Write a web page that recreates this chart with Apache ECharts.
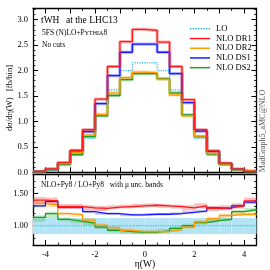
<!DOCTYPE html>
<html><head><meta charset="utf-8">
<script src="https://cdn.jsdelivr.net/npm/echarts@6/dist/echarts.min.js"></script>
<style>html,body{margin:0;padding:0;background:#fff}#c{width:270px;height:270px}</style>
</head><body><div id="c"></div>
<script>
// ---- data ----
const binEdges = [-4.5,-4,-3.5,-3,-2.5,-2,-1.5,-1,-0.5,0,0.5,1,1.5,2,2.5,3,3.5,4,4.5];
const seriesNames = ['LO','NLO DR1','NLO DR2','NLO DS1','NLO DS2'];
const loVals  = [0.012,0.045,0.14,0.33,0.67,1.13,1.62,2.00,2.15,2.15,2.00,1.62,1.13,0.67,0.33,0.14,0.045,0.012];
const dr1Vals = [0.018,0.065,0.19,0.43,0.84,1.44,2.08,2.57,2.81,2.79,2.56,2.08,1.43,0.84,0.42,0.18,0.062,0.018];
const dr2Vals = [0.016,0.060,0.17,0.39,0.73,1.14,1.56,1.86,1.97,1.96,1.83,1.52,1.11,0.71,0.37,0.16,0.053,0.015];
const ds1Vals = [0.016,0.062,0.18,0.42,0.80,1.35,1.90,2.36,2.52,2.52,2.36,1.94,1.37,0.81,0.41,0.17,0.059,0.017];
const ds2Vals = [0.014,0.054,0.154,0.35,0.70,1.11,1.51,1.82,1.94,1.94,1.84,1.56,1.13,0.70,0.36,0.154,0.055,0.015];

const loRatio  = [1,1,1,1,1,1,1,1,1,1,1,1,1,1,1,1,1,1];
const loHi     = [1.12,1.12,1.12,1.12,1.12,1.12,1.12,1.12,1.12,1.12,1.12,1.12,1.12,1.12,1.12,1.12,1.12,1.12];
const loLo     = [0.87,0.87,0.87,0.87,0.87,0.87,0.87,0.87,0.87,0.87,0.87,0.87,0.87,0.87,0.87,0.87,0.87,0.87];
const dr1Ratio = [1.40,1.39,1.30,1.30,1.28,1.27,1.29,1.30,1.31,1.32,1.31,1.30,1.28,1.31,1.27,1.28,1.31,1.39];
const dr1Hi    = [1.45,1.44,1.34,1.34,1.32,1.31,1.32,1.33,1.34,1.35,1.34,1.33,1.32,1.35,1.31,1.32,1.35,1.44];
const dr1Lo    = [1.35,1.34,1.26,1.26,1.24,1.23,1.26,1.27,1.28,1.29,1.28,1.27,1.24,1.27,1.23,1.24,1.27,1.34];
const ds1Ratio = [1.31,1.38,1.29,1.29,1.22,1.19,1.19,1.17,1.17,1.18,1.18,1.19,1.21,1.23,1.28,1.27,1.31,1.37];
const ds1Hi    = [1.33,1.40,1.31,1.31,1.24,1.21,1.21,1.19,1.19,1.20,1.20,1.21,1.23,1.25,1.30,1.29,1.33,1.39];
const ds1Lo    = [1.29,1.36,1.27,1.27,1.20,1.17,1.17,1.15,1.15,1.16,1.16,1.17,1.19,1.21,1.26,1.25,1.29,1.35];
const dr2Ratio = [1.35,1.32,1.19,1.17,1.09,1.01,0.97,0.93,0.91,0.91,0.91,0.94,0.98,1.06,1.11,1.16,1.18,1.18];
const dr2Hi    = [1.38,1.35,1.22,1.20,1.12,1.04,1.00,0.96,0.94,0.94,0.94,0.97,1.01,1.09,1.14,1.19,1.21,1.21];
const dr2Lo    = [1.32,1.29,1.16,1.14,1.06,0.98,0.94,0.90,0.88,0.88,0.88,0.91,0.95,1.03,1.08,1.13,1.15,1.15];
const ds2Ratio = [1.13,1.19,1.10,1.07,1.04,0.98,0.93,0.91,0.90,0.90,0.92,0.96,1.00,1.05,1.08,1.10,1.22,1.25];
const ds2Hi    = [1.16,1.22,1.13,1.10,1.07,1.01,0.96,0.94,0.93,0.93,0.95,0.99,1.03,1.08,1.11,1.13,1.25,1.28];
const ds2Lo    = [1.06,1.12,1.07,1.04,1.01,0.95,0.90,0.88,0.87,0.87,0.89,0.93,0.97,1.02,1.05,1.07,1.19,1.22];

const xTickLabels = [-4,-2,0,2,4];
const xMajorTicks = [-4,-3,-2,-1,0,1,2,3,4];
const yMainLabels = [0,0.5,1.0,1.5,2.0,2.5,3.0];
const yRatioLabels = [1.0,1.5];

// ---- helpers ----
function stepData(vals){ const d = vals.map((v,i)=>[binEdges[i], v]); d.push([binEdges[vals.length], vals[vals.length-1]]); return d; }
function bandData(lo, hi){ return lo.map((l,i)=>[binEdges[i], binEdges[i+1], l, hi[i]]); }
function range(a,b,s){ const r=[]; for(let v=a; v<=b+1e-9; v+=s) r.push(Math.round(v*1000)/1000); return r; }

const FONT = 'Liberation Serif';
const COL = {lo:'#1fb4e8', dr1:'#ff1a1a', dr2:'#ff9a00', ds1:'#1a1aff', ds2:'#1f9e1f'};
const BAND = {lo:'#b2e4f5', dr1:'rgba(240,80,90,0.38)', dr2:'rgba(255,170,60,0.32)', ds1:'rgba(90,90,240,0.35)', ds2:'rgba(70,190,70,0.32)'};

const G0 = {left:33, top:8.5, width:223.5, height:163.8};
const G1 = {left:33, top:174.5, width:223.5, height:70.5};

const xMin=-4.5, xMax=4.5;
function xAx(grid, pos, labels){
  return {type:'value', gridIndex:grid, position:pos, min:xMin, max:xMax,
    axisLine:{show:true, onZero:false, lineStyle:{color:'#000', width:1.3}},
    axisTick:{show:true, inside:true, length:5, customValues:xMajorTicks, lineStyle:{color:'#000',width:1}},
    axisLabel:{show:labels, customValues:xTickLabels, fontFamily:FONT, fontSize:8.5, color:'#000', margin:5},
    splitLine:{show:false}};
}
function xMinor(grid,pos){
  return {type:'value', gridIndex:grid, position:pos, min:xMin, max:xMax,
    axisLine:{show:false, onZero:false}, axisTick:{show:true, inside:true, length:2.5, customValues:range(-4.5,4.5,0.5), lineStyle:{color:'#000',width:0.8}},
    axisLabel:{show:false}, splitLine:{show:false}};
}
function yAx(grid,pos,min,max,majors,minors,labels,fmt){
  return [{type:'value', gridIndex:grid, position:pos, min:min, max:max,
    axisLine:{show:true, onZero:false, lineStyle:{color:'#000', width:1.3}},
    axisTick:{show:true, inside:true, length:5, customValues:majors, lineStyle:{color:'#000',width:1}},
    axisLabel:{show:labels, customValues:majors, formatter:v=>v.toFixed(fmt), fontFamily:FONT, fontSize:8.5, color:'#000', margin:5},
    splitLine:{show:false}},
   {type:'value', gridIndex:grid, position:pos, min:min, max:max,
    axisLine:{show:false, onZero:false}, axisTick:{show:true, inside:true, length:2.5, customValues:minors, lineStyle:{color:'#000',width:0.8}},
    axisLabel:{show:false}, splitLine:{show:false}}];
}

const xAxes = [xAx(0,'bottom',false), xAx(0,'top',false), xAx(1,'bottom',true), xAx(1,'top',false),
  xMinor(0,'bottom'), xMinor(0,'top'), xMinor(1,'bottom'), xMinor(1,'top')];
const yMainMinors = range(0,3.2,0.1), yRatioMinors = range(0.7,1.8,0.1);
const yAxes = [].concat(
  yAx(0,'left',0,3.22,yMainLabels,yMainMinors,true,1),
  yAx(0,'right',0,3.22,yMainLabels,yMainMinors,false,1),
  yAx(1,'left',0.7,1.8,yRatioLabels,yRatioMinors,true,2),
  yAx(1,'right',0.7,1.8,yRatioLabels,yRatioMinors,false,2));

const series = [];
function mainLine(name, vals, col, halo, dotted){
  if(halo) series.push({type:'line', xAxisIndex:0, yAxisIndex:0, step:'end', symbol:'none', silent:true,
    data:stepData(vals), lineStyle:{color:col, width:3.2, opacity:0.35}, z:2});
  series.push({name:name, type:'line', xAxisIndex:0, yAxisIndex:0, step:'end', symbol:'none', showSymbol:false,
    data:stepData(vals), lineStyle:{color:col, width:dotted?1.2:1.3, type:dotted?'dotted':'solid'}, itemStyle:{color:col}, z:3});
}
mainLine('LO', loVals, COL.lo, false, true);
mainLine('NLO DS2', ds2Vals, COL.ds2, true);
mainLine('NLO DS1', ds1Vals, COL.ds1, true);
mainLine('NLO DR2', dr2Vals, COL.dr2, true);
mainLine('NLO DR1', dr1Vals, COL.dr1, true);

function band(lo, hi, fill){
  series.push({type:'custom', xAxisIndex:2, yAxisIndex:4, silent:true, z:1,
    data:bandData(lo,hi), encode:{x:[0,1], y:[2,3]},
    renderItem:function(params, api){
      const p0 = api.coord([api.value(0), api.value(3)]);
      const p1 = api.coord([api.value(1), api.value(2)]);
      return {type:'rect', shape:{x:p0[0], y:p0[1], width:p1[0]-p0[0], height:p1[1]-p0[1]}, style:{fill:fill}};
    }});
}
band(loLo, loHi, BAND.lo);
band(ds2Lo, ds2Hi, BAND.ds2);
band(dr2Lo, dr2Hi, BAND.dr2);
band(ds1Lo, ds1Hi, BAND.ds1);
band(dr1Lo, dr1Hi, BAND.dr1);

function ratioLine(vals, col, dotted){
  series.push({type:'line', xAxisIndex:2, yAxisIndex:4, step:'end', symbol:'none', silent:true,
    data:stepData(vals), lineStyle:{color:col, width:dotted?1.2:1.3, type:dotted?'dotted':'solid'}, z:3});
}
ratioLine(loRatio, COL.lo, true);
ratioLine(ds2Ratio, COL.ds2);
ratioLine(dr2Ratio, COL.dr2);
ratioLine(ds1Ratio, COL.ds1);
ratioLine(dr1Ratio, COL.dr1);

const dottedIcon = 'path://M0,0h1.4v1h-1.4zM2.8,0h1.4v1h-1.4zM5.6,0h1.4v1h-1.4zM8.4,0h1.4v1h-1.4zM11.2,0h1.4v1h-1.4zM14,0h1.4v1h-1.4zM16.8,0h1.4v1h-1.4zM19.6,0h1.4v1h-1.4z';
const legendData = seriesNames.map(n => ({name:n, icon: n==='LO' ? dottedIcon : 'rect'}));

const chart = echarts.init(document.getElementById('c'), null, {renderer:'canvas'});
chart.setOption({
  animation:false,
  backgroundColor:'#fff',
  grid:[G0, G1],
  xAxis:xAxes, yAxis:yAxes,
  legend:{data:legendData, orient:'vertical', left:185, top:19, itemWidth:20, itemHeight:1.5, itemGap:0,
    symbolKeepAspect:false,
    textStyle:{fontFamily:FONT, fontSize:8.5, color:'#000', lineHeight:9.7, padding:[0,0,0,1]}, selectedMode:false},
  series:series,
  graphic:[
    {type:'text', left:41, top:15, style:{text:'tWH', font:'9.5px "Liberation Serif"', fill:'#000'}},
    {type:'text', left:66, top:15, style:{text:'at the LHC13', font:'9.5px "Liberation Serif"', fill:'#000'}},
    {type:'text', left:42, top:29, style:{text:'5FS (N)LO+P{s|YTHIA}8', font:'7.5px "Liberation Serif"', fill:'#000',
      rich:{s:{fontFamily:FONT, fontSize:6, fill:'#000'}}}},
    {type:'text', left:42, top:41, style:{text:'No cuts', font:'7.5px "Liberation Serif"', fill:'#000'}},
    {type:'text', left:41, top:181, style:{text:'NLO+Py8 / LO+Py8   with \u03bc unc. bands', font:'7.5px "Liberation Serif"', fill:'#000'}},
    {type:'text', x:10, y:98, rotation:Math.PI/2, style:{text:'d\u03c3/d\u03b7(W)   [fb/bin]', font:'8.5px "Liberation Serif"', fill:'#000', align:'center', verticalAlign:'middle'}},
    {type:'text', x:263, y:131, rotation:Math.PI/2, style:{text:'MadGraph5_aMC@NLO', font:'8px "Liberation Serif"', fill:'#555', align:'center', verticalAlign:'middle'}},
    {type:'text', x:145, y:264, style:{text:'\u03b7(W)', font:'9.5px "Liberation Serif"', fill:'#000', align:'center', verticalAlign:'middle'}}
  ]
});
</script></body></html>
